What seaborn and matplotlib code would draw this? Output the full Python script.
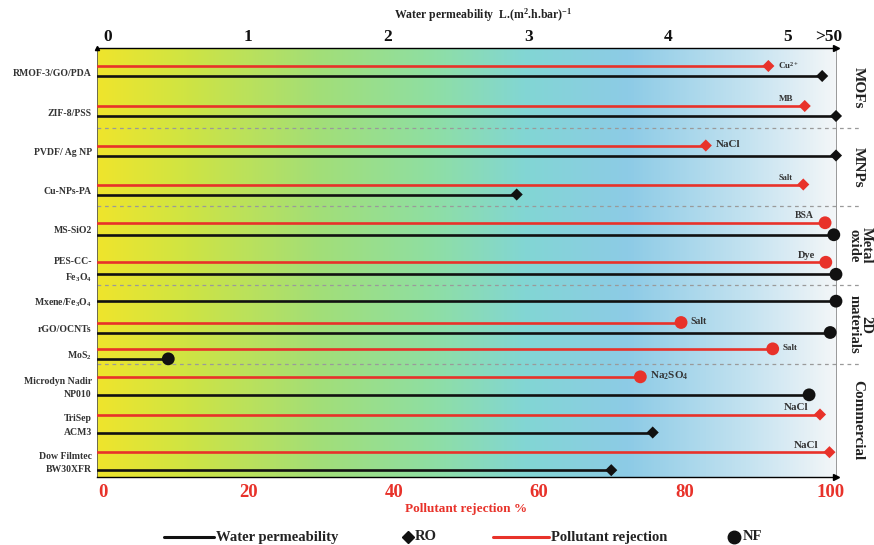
import numpy as np
import pandas as pd
import matplotlib
matplotlib.use("Agg")
import matplotlib.pyplot as plt
import matplotlib.transforms as mtransforms
from matplotlib.colors import LinearSegmentedColormap
from matplotlib.lines import Line2D
import seaborn as sns

# ---------------- data ----------------
materials = ["RMOF-3/GO/PDA", "ZIF-8/PSS", "PVDF/ Ag NP", "Cu-NPs-PA", "MS-SiO2",
             "PES-CC-\nFe$_3$O$_4$", "Mxene/Fe$_3$O$_4$", "rGO/OCNTs", "MoS$_2$",
             "Microdyn Nadir\nNP010", "TriSep\nACM3", "Dow Filmtec\nBW30XFR"]
groups = ["MOFs", "MOFs", "MNPs", "MNPs", "Metal\noxide", "Metal\noxide",
          "2D\nmaterials", "2D\nmaterials", "2D\nmaterials",
          "Commercial", "Commercial", "Commercial"]
membrane_type = ["RO", "RO", "RO", "RO", "NF", "NF", "NF", "NF", "NF", "NF", "RO", "RO"]
rejection = [91.5, 96.5, 82.9, 96.3, 99.3, 99.4, np.nan, 79.5, 92.1, 73.9, 98.6, 99.9]
pollutant = ["Cu$^{2+}$", "MB", "NaCl", "Salt", "BSA", "Dye", "", "Salt", "Salt",
             "Na$_2$SO$_4$", "NaCl", "NaCl"]
# water permeability, positioned on the shared horizontal scale
permeability = [98.9, 100.8, 100.8, 56.9, 100.5, 100.8, 100.8, 100.0, 9.0, 97.1, 75.6, 69.9]
perm_tick_pos = [0.7, 20.0, 39.2, 58.6, 77.7, 94.1, 99.8]
perm_tick_labels = ["0", "1", "2", "3", "4", "5", ">50"]
rej_ticks = [0, 20, 40, 60, 80, 100]
legend_labels = ["Water permeability", "RO", "Pollutant rejection", "NF"]

# ---------------- layout / style ----------------
group_order = ["MOFs", "MNPs", "Metal\noxide", "2D\nmaterials", "Commercial"]
group_height = [80, 78, 79, 79, 113]          # vertical space per group
pair_gap = [10, 10, 12, 10, 18]               # red-black line gap per group
label_side = ["r", "a", "r", "a", "a", "a", "", "r", "r", "r", "a", "a"]
label_size = [6.5, 6.5, 8, 6, 7, 7.5, 7, 7, 6.5, 8, 8, 8]
RED = "#e8322a"
BLACK = "#111111"
XMIN, XMAX = -0.8, 100.8
W, H = 874, 545

sns.set_theme(style="white")
plt.rcParams["font.family"] = ["Liberation Serif", "DejaVu Serif"]
plt.rcParams["font.weight"] = "bold"
plt.rcParams["mathtext.fontset"] = "custom"
plt.rcParams["mathtext.rm"] = "Liberation Serif:bold"
plt.rcParams["mathtext.it"] = "Liberation Serif:bold"
plt.rcParams["mathtext.bf"] = "Liberation Serif:bold"

fig = plt.figure(figsize=(W / 100, H / 100), dpi=100)
ax = fig.add_axes([97 / W, 1 - 477 / H, 739 / W, 429 / H])

# compute row positions
row_y, red_y, blk_y, seps, gmid = [], [], [], [], []
top = 0
for g, h, gap in zip(group_order, group_height, pair_gap):
    idx = [i for i, gg in enumerate(groups) if gg == g]
    n = len(idx)
    for k, i in enumerate(idx):
        c = top + h * (k + 0.5) / n + 3
        row_y.append(c)
        if np.isnan(rejection[i]):
            red_y.append(np.nan)
            blk_y.append(c)
        else:
            red_y.append(c - gap / 2)
            blk_y.append(c + gap / 2)
    gmid.append(top + h / 2)
    top += h
    seps.append(top)
seps = seps[:-1]

# background gradient
cmap = LinearSegmentedColormap.from_list("bg", [
    (0.0, "#efe52c"), (0.12, "#cfe443"), (0.30, "#a2de78"), (0.45, "#8fdfa2"),
    (0.58, "#82d6d4"), (0.72, "#8dcbe6"), (0.88, "#c3e2f0"), (1.0, "#f3f6f8")])
ax.imshow(np.linspace(0, 1, 512).reshape(1, -1), cmap=cmap, aspect="auto",
          extent=[XMIN, XMAX, top, 0], zorder=0)

# lines via seaborn
rows = []
for i in range(len(materials)):
    if not np.isnan(rejection[i]):
        rows += [dict(line=f"r{i}", kind="rej", x=XMIN, y=red_y[i]),
                 dict(line=f"r{i}", kind="rej", x=rejection[i], y=red_y[i])]
    rows += [dict(line=f"p{i}", kind="perm", x=XMIN, y=blk_y[i]),
             dict(line=f"p{i}", kind="perm", x=permeability[i], y=blk_y[i])]
ldf = pd.DataFrame(rows)
sns.lineplot(data=ldf, x="x", y="y", units="line", hue="kind", estimator=None,
             sort=False, palette={"rej": RED, "perm": BLACK}, linewidth=1.9,
             legend=False, ax=ax, zorder=3)

# end markers via seaborn
pts = []
for i in range(len(materials)):
    if not np.isnan(rejection[i]):
        pts.append(dict(kind="rej", type=membrane_type[i], x=rejection[i], y=red_y[i]))
    pts.append(dict(kind="perm", type=membrane_type[i], x=permeability[i], y=blk_y[i]))
pdf = pd.DataFrame(pts)
for t, mk, s in [("RO", "D", 38), ("NF", "o", 85)]:
    sub = pdf[pdf["type"] == t]
    sns.scatterplot(data=sub, x="x", y="y", hue="kind", palette={"rej": RED, "perm": BLACK},
                    marker=mk, s=s, linewidth=0, legend=False, ax=ax, zorder=4,
                    clip_on=False)

# pollutant labels
for i in range(len(materials)):
    if not pollutant[i]:
        continue
    if label_side[i] == "r":
        ax.annotate(pollutant[i], (rejection[i], red_y[i]), xytext=(7, 0.5),
                    textcoords="offset points", ha="left", va="center",
                    fontsize=label_size[i], color="#333333", fontweight="bold", zorder=5)
    else:
        ax.annotate(pollutant[i], (rejection[i], red_y[i]), xytext=(-8, 5),
                    textcoords="offset points", ha="right", va="center",
                    fontsize=label_size[i], color="#333333", fontweight="bold", zorder=5)

tl = mtransforms.blended_transform_factory(ax.transAxes, ax.transData)

# separators
for s in seps:
    ax.plot([0, 1.032], [s, s], transform=tl,
            color="#9a9a9a", lw=0.9, ls=(0, (3, 3)), clip_on=False, zorder=2)

# material labels (left)
for i, m in enumerate(materials):
    ax.text(-0.007, row_y[i] + 2, m, transform=tl, ha="right", va="center",
            fontsize=7, color="#333333", fontweight="bold", linespacing=1.6)

# group labels (right)
for g, ym in zip(group_order, gmid):
    two = "\n" in g
    ax.text(1.0325 if two else 1.03, ym, g, transform=tl, rotation=-90,
            ha="center", va="center", fontsize=10.5 if two else 11,
            color="#222222", fontweight="bold", linespacing=0.95,
            multialignment="center")

# axes
ax.set_xlim(XMIN, XMAX)
ax.set_ylim(top, 0)
ax.set_yticks([])
ax.set_xticks(rej_ticks)
ax.set_xticklabels([str(t) for t in rej_ticks], color=RED, fontsize=13.5, fontweight="bold")
ax.tick_params(axis="x", length=0, pad=5)
ax.set_xlabel("")
ax.set_ylabel("")
for sp in ["top", "bottom"]:
    ax.spines[sp].set_color("black")
    ax.spines[sp].set_linewidth(1.0)
ax.spines["left"].set_color("#555555")
ax.spines["left"].set_linewidth(0.6)
ax.spines["right"].set_color("#888888")
ax.spines["right"].set_linewidth(0.6)
ax.plot([1.0, 1.0], [1.0, 0.0], transform=ax.transAxes, marker=">", ms=4, ls="none",
        color="black", clip_on=False, zorder=6)
ax.plot([0.0], [1.0], transform=ax.transAxes, marker="^", ms=3, ls="none",
        color="black", clip_on=False, zorder=6)
ax.grid(False)

ax2 = ax.twiny()
ax2.set_xlim(XMIN, XMAX)
ax2.set_xticks(perm_tick_pos)
ax2.set_xticklabels(perm_tick_labels, fontsize=12.5, fontweight="bold", color="#111111")
ax2.tick_params(axis="x", length=0, pad=2)
for sp in ax2.spines.values():
    sp.set_visible(False)
ax2.grid(False)

fig.text(483 / W, 1 - 15 / H, "Water permeability  L.(m$^2$.h.bar)$^{-1}$",
         ha="center", va="center", fontsize=8.5, color="#222222", fontweight="bold")
fig.text(466 / W, 1 - 509 / H, "Pollutant rejection %", ha="center", va="center",
         fontsize=9.5, color=RED, fontweight="bold")

# legend (figure-level, manual placement)
ly = 1 - 537 / H
fig.add_artist(Line2D([164 / W, 214 / W], [ly, ly], color=BLACK, lw=2.2))
fig.add_artist(Line2D([408 / W], [ly], color=BLACK, marker="D", ls="none", ms=6.5))
fig.add_artist(Line2D([493 / W, 549 / W], [ly, ly], color=RED, lw=2.2))
fig.add_artist(Line2D([734 / W], [ly], color=BLACK, marker="o", ls="none", ms=9))
for xl, lab in zip([216, 415, 551, 743], legend_labels):
    fig.text(xl / W, ly, lab, ha="left", va="center", fontsize=10.5,
             color="#222222", fontweight="bold")

fig.savefig("out.png", dpi=100)
